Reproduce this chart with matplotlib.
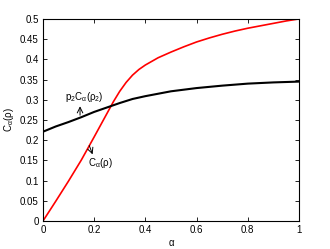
import matplotlib
matplotlib.use("Agg")
import matplotlib.pyplot as plt

plt.rcParams['font.family'] = ['Liberation Sans', 'DejaVu Sans']
plt.rcParams['mathtext.fontset'] = 'custom'
plt.rcParams['mathtext.rm'] = 'Liberation Sans'
plt.rcParams['mathtext.it'] = 'Liberation Sans'

alpha_red = [0, 0.05, 0.1, 0.15, 0.2, 0.225, 0.25, 0.275, 0.3, 0.325, 0.35, 0.375, 0.4,
             0.45, 0.5, 0.55, 0.6, 0.65, 0.7, 0.75, 0.8, 0.85, 0.9, 0.95, 1.0]
c_rho = [0, 0.049, 0.099, 0.151, 0.208, 0.237, 0.266, 0.295, 0.321, 0.343, 0.361, 0.375, 0.386,
         0.404, 0.418, 0.431, 0.443, 0.453, 0.462, 0.470, 0.477, 0.483, 0.489, 0.495, 0.5]

alpha_black = [0, 0.05, 0.1, 0.15, 0.2, 0.25, 0.3, 0.35, 0.4, 0.45, 0.5, 0.6, 0.7, 0.8, 0.9, 1.0]
p2c_rho2 = [0.221, 0.234, 0.245, 0.257, 0.27, 0.281, 0.292, 0.302, 0.309, 0.315, 0.321,
            0.329, 0.335, 0.34, 0.343, 0.345]

xticks = [0, 0.2, 0.4, 0.6, 0.8, 1]
xticklabels = ['0', '0.2', '0.4', '0.6', '0.8', '1']
yticks = [0, 0.05, 0.1, 0.15, 0.2, 0.25, 0.3, 0.35, 0.4, 0.45, 0.5]
yticklabels = ['0', '0.05', '0.1', '0.15', '0.2', '0.25', '0.3', '0.35', '0.4', '0.45', '0.5']

fig = plt.figure(figsize=(3.3, 2.49), dpi=100)
ax = fig.add_axes([0.130, 0.112, 0.776, 0.812])
ax.plot(alpha_red, c_rho, color='#ff0000', lw=1.2)
ax.plot(alpha_black, p2c_rho2, color='black', lw=1.5)
ax.set_xlim(0, 1)
ax.set_ylim(0, 0.5)
ax.set_xticks(xticks)
ax.set_xticklabels(xticklabels)
ax.set_yticks(yticks)
ax.set_yticklabels(yticklabels)
ax.tick_params(direction='in', length=3, width=0.6, labelsize=7, top=True, right=True, pad=3)
for s in ax.spines.values():
    s.set_linewidth(0.8)
ax.set_xlabel('α', fontsize=7, labelpad=2)
ax.set_ylabel(r'$\mathrm{C}_{\alpha}(\rho)$', fontsize=7, labelpad=3)

ax.text(0.16, 0.307, r'$\mathrm{p}_2\mathrm{C}_{\alpha}(\rho_2)$', ha='center', va='center', fontsize=7)
ax.annotate('', xy=(0.145, 0.284), xytext=(0.145, 0.262),
            arrowprops=dict(arrowstyle='->', lw=0.7, color='black', shrinkA=0, shrinkB=0))
ax.annotate('', xy=(0.194, 0.165), xytext=(0.181, 0.187),
            arrowprops=dict(arrowstyle='->', lw=0.7, color='black', shrinkA=0, shrinkB=0))
ax.text(0.176, 0.144, r'$\mathrm{C}_{\alpha}(\rho)$', ha='left', va='center', fontsize=7)

fig.savefig('out.png', dpi=100)
